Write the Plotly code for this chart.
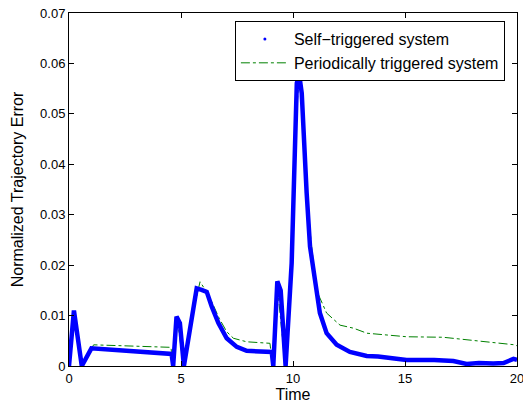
import plotly.graph_objects as go

# Self-triggered system (blue dots)
self_t = [0, 0.22, 0.57, 1.0, 4.58, 4.65, 4.8, 4.95, 5.13, 5.4, 5.7, 5.92, 6.15, 6.37, 6.67,
          7.04, 7.49, 7.93, 9.05, 9.12, 9.3, 9.45, 9.67, 9.94, 10.09, 10.17, 10.28, 10.39,
          10.61, 10.76, 10.98, 11.2, 11.5, 11.95, 12.54, 13.29, 13.8, 15.07, 16.3, 17.16,
          17.75, 18.3, 18.94, 19.4, 19.84, 20]
self_err = [0, 0.011, 0, 0.0035, 0.0024, 0, 0.0098, 0.0085, 0, 0.0078, 0.0154, 0.0151, 0.0147,
            0.0118, 0.0085, 0.0055, 0.0038, 0.0030, 0.0028, 0, 0.0168, 0.015, 0, 0.0204, 0.0475,
            0.0561, 0.0577, 0.0541, 0.0343, 0.0237, 0.0171, 0.0105, 0.0065, 0.0042, 0.0028,
            0.002, 0.0019, 0.0012, 0.0012, 0.001, 0.0004, 0.0006, 0.0005, 0.0006, 0.0014, 0.0012]

# Periodically triggered system (green dash-dot)
per_t = [0, 0.22, 0.55, 1.1, 4.55, 4.65, 4.85, 5.1, 5.4, 5.85, 6.1, 6.4, 6.7, 7.04, 7.34, 7.93,
         8.97, 9.1, 9.3, 9.65, 9.94, 10.1, 10.25, 10.4, 10.61, 10.8, 11.05, 11.5, 12.1, 12.7,
         13.3, 15.07, 16.7, 18.2, 19.9, 20]
per_err = [0, 0.0105, 0, 0.0042, 0.0037, 0, 0.009, 0, 0.008, 0.0167, 0.015, 0.0125, 0.0095,
           0.0068, 0.0055, 0.0048, 0.0045, 0, 0.016, 0, 0.02, 0.046, 0.056, 0.053, 0.035,
           0.025, 0.015, 0.0105, 0.0081, 0.0075, 0.0065, 0.0058, 0.0057, 0.005, 0.0042, 0.004]

x_ticks = [0, 5, 10, 15, 20]
y_ticks = [0, 0.01, 0.02, 0.03, 0.04, 0.05, 0.06, 0.07]
y_tick_labels = ["0", "0.01", "0.02", "0.03", "0.04", "0.05", "0.06", "0.07"]

fig = go.Figure()
fig.add_trace(go.Scatter(x=per_t, y=per_err, mode="lines", showlegend=False,
                         line=dict(color="#008000", width=1, dash="dashdot")))
fig.add_trace(go.Scatter(x=self_t, y=self_err, mode="lines", showlegend=False,
                         line=dict(color="#0000ff", width=4.5)))
fig.add_trace(go.Scatter(x=[None], y=[None], mode="markers", name="Self\u2212triggered system",
                         marker=dict(color="#0000ff", size=3)))
fig.add_trace(go.Scatter(x=[None], y=[None], mode="lines", name="Periodically triggered system",
                         line=dict(color="#008000", width=1, dash="dashdot")))

axis_common = dict(showline=True, linecolor="black", linewidth=1, mirror="ticks",
                   ticks="inside", ticklen=5, tickcolor="black", showgrid=False,
                   zeroline=False, automargin=False, ticklabeloverflow="allow",
                   tickfont=dict(size=13, color="black"))
fig.update_layout(
    width=523, height=403,
    margin=dict(l=69, r=6, t=13, b=37),
    paper_bgcolor="white", plot_bgcolor="white",
    font=dict(family="Liberation Sans, Arial, sans-serif", size=13, color="black"),
    xaxis=dict(range=[0, 20], tickvals=x_ticks, ticktext=[str(v) for v in x_ticks],
               title=dict(text="Time", font=dict(size=16), standoff=0), **axis_common),
    yaxis=dict(range=[0, 0.07], tickvals=y_ticks, ticktext=y_tick_labels,
               title=dict(text="Normalized Trajectory Error", font=dict(size=16), standoff=12),
               **axis_common),
    legend=dict(x=0.973, y=0.977, xanchor="right", yanchor="top",
                bordercolor="black", borderwidth=1, bgcolor="white",
                font=dict(size=16), tracegroupgap=0, itemwidth=48),
)
fig.write_html("out.html", config={"displayModeBar": False},
               post_script="document.body.style.margin='0px';")
